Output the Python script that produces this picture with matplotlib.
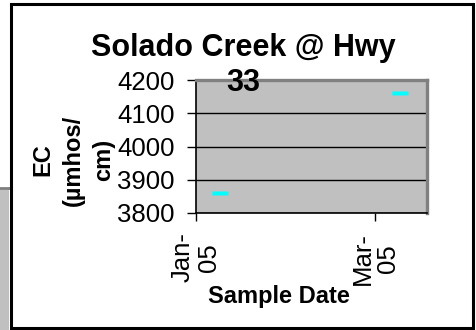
import matplotlib
matplotlib.use("Agg")
import matplotlib.pyplot as plt
import matplotlib.dates as mdates
import matplotlib.transforms as mtransforms
from matplotlib.patches import Rectangle
import numpy as np

# EC samples at Solado Creek @ Hwy 33
sample_dates = ["2005-01-09", "2005-03-09"]
ec_values = [3860, 4160]
tick_dates = ["2005-01-01", "2005-03-01"]
tick_labels = ["Jan-\n05", "Mar-\n05"]
x_range = ["2005-01-01", "2005-03-18"]
y_ticks = [3800, 3900, 4000, 4100, 4200]

plt.rcParams["font.family"] = ["Liberation Sans", "DejaVu Sans"]

W, H = 476, 330
fig = plt.figure(figsize=(W / 100, H / 100), dpi=100)

def fx(px):
    return px / W

def fy(py):
    return 1 - py / H

# grey panel peeking out behind the chart frame
fig.patches.append(Rectangle((0, 0), fx(9), fy(188), transform=fig.transFigure,
                             facecolor="#c0c0c0", edgecolor="none", zorder=0))
fig.lines.append(plt.Line2D([0, fx(10)], [fy(188), fy(188)], transform=fig.transFigure,
                            color="#808080", lw=2, zorder=1))
# chart frame
fig.patches.append(Rectangle((fx(10.5), fy(327.5)), fx(462), fy(3.5) - fy(327.5),
                             transform=fig.transFigure, facecolor="white",
                             edgecolor="black", lw=2.2, zorder=1))

ax = fig.add_axes([fx(196), fy(213), fx(231), fy(80) - fy(213)], zorder=3)
ax.set_facecolor("#c0c0c0")

x = mdates.date2num(np.array(sample_dates, dtype="datetime64[D]"))
rect = [(-1.6, -0.5), (1.6, -0.5), (1.6, 0.5), (-1.6, 0.5), (-1.6, -0.5)]
ax.plot(x, ec_values, linestyle="none", marker=rect, markersize=11.5,
        markerfacecolor="#00ffff", markeredgecolor="none", zorder=4)

xl = mdates.date2num(np.array(x_range, dtype="datetime64[D]"))
ax.set_xlim(xl[0], xl[1])
ax.set_ylim(3800, 4200)
ax.set_xticks(mdates.date2num(np.array(tick_dates, dtype="datetime64[D]")))
ax.set_xticklabels(tick_labels, rotation=90, fontsize=18.5, ha="center",
                   va="top", multialignment="center", linespacing=1.1)
ax.set_yticks(y_ticks)
ax.set_yticklabels([str(v) for v in y_ticks], fontsize=18.5)

# nudge the rotated date labels a little to the right
shift = mtransforms.ScaledTranslation(4 / 100, 0, fig.dpi_scale_trans)
for lbl in ax.get_xticklabels():
    lbl.set_transform(lbl.get_transform() + shift)

ax.yaxis.grid(True, color="black", lw=1)
ax.set_axisbelow(True)
ax.tick_params(axis="y", direction="out", length=6.5, width=1, pad=9)
ax.tick_params(axis="x", direction="out", length=6, width=1, pad=8)

for side in ["top", "right"]:
    ax.spines[side].set_color("#808080")
    ax.spines[side].set_linewidth(2.4)
for side in ["left", "bottom"]:
    ax.spines[side].set_color("black")
    ax.spines[side].set_linewidth(1.2)

fig.text(fx(243), fy(33), "Solado Creek @ Hwy\n33", ha="center", va="top",
         fontsize=22, fontweight="bold", linespacing=1.23, zorder=5)
fig.text(fx(73), fy(160), "EC\n(µmhos/\ncm)", rotation=90, ha="center",
         va="center", multialignment="center", fontsize=17,
         fontweight="bold", linespacing=1.4, zorder=5)
fig.text(fx(279), fy(296), "Sample Date", ha="center", va="center",
         fontsize=17, fontweight="bold", zorder=5)

fig.savefig("out.png", dpi=100)
